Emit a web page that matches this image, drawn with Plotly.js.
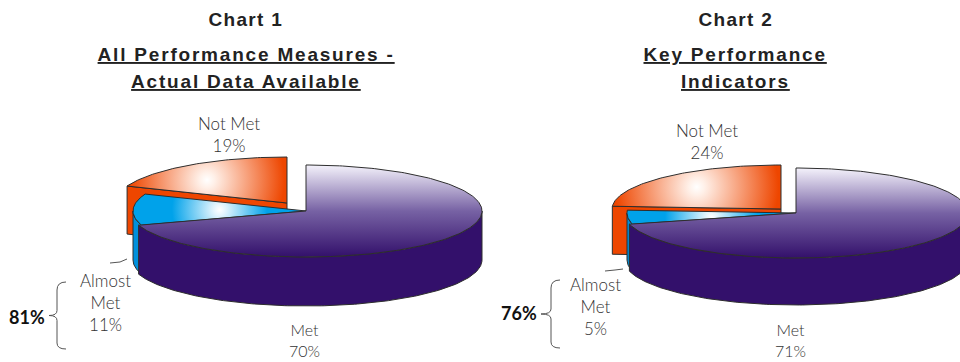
<!DOCTYPE html>
<html>
<head>
<meta charset="utf-8">
<script src="https://cdn.plot.ly/plotly-3.0.1.min.js"></script>
<style>
html, body { margin: 0; padding: 0; background: #fff; }
#chart { width: 960px; height: 362px; }
/* Wide tracking and a heavy rule on the headings */
.annotation[data-index="0"] text, .annotation[data-index="7"] text { letter-spacing: 1.3px; }
.annotation[data-index="1"] text, .annotation[data-index="2"] text,
.annotation[data-index="8"] text, .annotation[data-index="9"] text {
  letter-spacing: 1.8px;
  text-decoration-thickness: 2px;
}
</style>
</head>
<body>
<div id="chart"></div>
<script>
// Share of performance measures per status, in percent
const categories = ["Met", "Almost Met", "Not Met"];
const chart1Values = [70, 11, 19];
const chart2Values = [71, 5, 24];
const chart1Total = "81%";
const chart2Total = "76%";

const chart1Discs = [
  { cx: 306, cy: 211, rx: 176, ry: 46, depth: 49 },
  { cx: 306, cy: 211, rx: 173, ry: 46, depth: 49 },
  { cx: 287, cy: 203, rx: 172, ry: 46, depth: 48 }
];
const chart2Discs = [
  { cx: 796, cy: 213, rx: 172, ry: 45, depth: 47 },
  { cx: 796, cy: 213, rx: 169, ry: 45, depth: 47 },
  { cx: 781, cy: 209, rx: 169, ry: 44, depth: 48 }
];

const OUTLINE = "#2e2e2e";
const RED = "#ee4600";
const BLUE = "#00a2ea";
const BLUE_SIDE = "#0090dc";
const PURPLE = "#33106b";

// Share of each slice's half width that its highlight reaches
const NOT_MET_GLOW = 0.97;
const ALMOST_MET_GLOW = 0.55;

// Point on a disc rim; angle in degrees clockwise from 12 o'clock
function rim(d, deg, drop) {
  const t = deg * Math.PI / 180;
  return [d.cx + d.rx * Math.sin(t), d.cy - d.ry * Math.cos(t) + (drop || 0)];
}

function arc(d, from, to, drop) {
  const pts = [];
  const n = Math.max(2, Math.ceil(Math.abs(to - from)));
  for (let i = 0; i <= n; i++) pts.push(rim(d, from + (to - from) * i / n, drop));
  return pts;
}

function polyTrace(name, pts, fill) {
  const closed = pts.concat([pts[0]]);
  const trace = {
    name: name,
    type: "scatter",
    mode: "lines",
    x: closed.map(p => p[0]),
    y: closed.map(p => p[1]),
    fill: "toself",
    line: { color: OUTLINE, width: 1 },
    hoverinfo: "skip",
    showlegend: false
  };
  if (typeof fill === "string") trace.fillcolor = fill;
  else trace.fillgradient = fill;
  return trace;
}

// One exploded, extruded pie drawn back to front: Not Met, Almost Met, Met
function pieTraces(values, discs) {
  const a0 = values[0] * 3.6;
  const a1 = a0 + values[1] * 3.6;
  const [met, almost, notMet] = discs;
  const notMetApex = [notMet.cx, notMet.cy];
  const traces = [];

  traces.push(polyTrace("Not Met cut face", [
    rim(notMet, a1), notMetApex,
    [notMet.cx, notMet.cy + notMet.depth], rim(notMet, a1, notMet.depth)
  ], RED));
  const notMetTop = polyTrace("Not Met", [notMetApex].concat(arc(notMet, a1, 360)), {
    type: "radial",
    colorscale: [[0, "#ffffff"], [0.1, "#fff0e8"], [1, RED]]
  });
  notMetTop.meta = { glow: NOT_MET_GLOW };
  traces.push(notMetTop);

  traces.push(polyTrace("Almost Met side",
    arc(almost, a0, 270).concat(arc(almost, 270, a0, almost.depth)), BLUE_SIDE));
  const almostTop = polyTrace("Almost Met", [[almost.cx, almost.cy]].concat(arc(almost, a0, a1)), {
    type: "radial",
    colorscale: [[0, "#ffffff"], [0.12, "#e4f5fd"], [1, BLUE]]
  });
  almostTop.meta = { glow: ALMOST_MET_GLOW };
  traces.push(almostTop);

  traces.push(polyTrace("Met side",
    arc(met, 90, a0).concat(arc(met, a0, 90, met.depth)), PURPLE));
  traces.push(polyTrace("Met", [[met.cx, met.cy]].concat(arc(met, 0, a0)), {
    type: "vertical",
    start: met.cy - met.ry,
    stop: met.cy + met.ry,
    colorscale: [[0, "#f4f2fb"], [0.5, "#7762a4"], [1, PURPLE]]
  }));
  return traces;
}

const LABEL_FONT = { family: "Lato, 'Noto Sans', sans-serif", size: 17, color: "#333333", weight: 300 };
const MET_FONT = Object.assign({}, LABEL_FONT, { size: 16 });
const TOTAL_FONT = { family: "Lato, 'Noto Sans', sans-serif", size: 18, color: "#111111", weight: 700 };
const HEAD_FONT = { family: "'Liberation Sans', Arial, sans-serif", size: 19, color: "#222222", weight: 700 };
const TITLE_FONT = Object.assign({}, HEAD_FONT, { lineposition: "under" });

function note(x, y, text, font) {
  return { x, y, xref: "x", yref: "y", text, font, showarrow: false, align: "center", xanchor: "center", yanchor: "middle" };
}

function pct(v) { return v + "%"; }

const annotations = [
  note(246, 19, "Chart 1", HEAD_FONT),
  note(246, 54, "All Performance Measures -", TITLE_FONT),
  note(246, 81, "Actual Data Available", TITLE_FONT),
  note(229, 134, categories[2] + "<br>" + pct(chart1Values[2]), LABEL_FONT),
  note(105, 302, "Almost<br>Met<br>" + pct(chart1Values[1]), LABEL_FONT),
  note(304, 340, categories[0] + "<br>" + pct(chart1Values[0]), MET_FONT),
  note(27, 317, chart1Total, TOTAL_FONT),
  note(735, 19, "Chart 2", HEAD_FONT),
  note(735, 54, "Key Performance", TITLE_FONT),
  note(735, 81, "Indicators", TITLE_FONT),
  note(707, 141, categories[2] + "<br>" + pct(chart2Values[2]), LABEL_FONT),
  note(595, 306, "Almost<br>Met<br>" + pct(chart2Values[1]), LABEL_FONT),
  note(790, 340, categories[0] + "<br>" + pct(chart2Values[0]), MET_FONT),
  note(519, 313, chart2Total, TOTAL_FONT)
];

// Brace path spanning the two shares it sums, with its tip pointing at the total
function brace(x, top, bottom, tip) {
  const mid = (top + bottom) / 2;
  return "M " + (x + 9) + " " + top + " Q " + x + " " + top + " " + x + " " + (top + 8) +
    " L " + x + " " + (mid - 5) + " Q " + x + " " + mid + " " + tip + " " + mid +
    " Q " + x + " " + mid + " " + x + " " + (mid + 5) +
    " L " + x + " " + (bottom - 6) + " Q " + x + " " + bottom + " " + (x + 9) + " " + bottom;
}

const lineStyle = { color: "#555555", width: 1 };
const shapes = [
  { type: "path", xref: "x", yref: "y", path: brace(57, 282, 349, 49), line: lineStyle },
  { type: "path", xref: "x", yref: "y", path: brace(551, 280, 348, 541), line: lineStyle },
  { type: "path", xref: "x", yref: "y", path: "M 110 263 L 120 262 L 127 259", line: lineStyle },
  { type: "path", xref: "x", yref: "y", path: "M 605 271 L 615 270 L 623 269", line: lineStyle }
];

const layout = {
  width: 960,
  height: 362,
  margin: { l: 0, r: 0, t: 0, b: 0 },
  paper_bgcolor: "#ffffff",
  plot_bgcolor: "#ffffff",
  xaxis: { range: [0, 960], visible: false, fixedrange: true },
  yaxis: { range: [362, 0], visible: false, fixedrange: true },
  annotations: annotations,
  shapes: shapes,
  showlegend: false
};

// The highlights are round spots, so pin each radial gradient to a circle
// about the centre of its slice instead of stretching it over the bounding box
function roundHighlights(gd) {
  const xa = gd._fullLayout.xaxis;
  const ya = gd._fullLayout.yaxis;
  const groups = gd.querySelectorAll(".scatterlayer .trace");
  gd.data.forEach((trace, i) => {
    if (!trace.meta || !groups[i]) return;
    const fillPath = groups[i].querySelector(".js-fill");
    const match = fillPath && /url\(["']?#([^"')]+)/.exec(fillPath.style.fill);
    const gradient = match && document.getElementById(match[1]);
    if (!gradient) return;
    const x0 = Math.min(...trace.x), x1 = Math.max(...trace.x);
    const y0 = Math.min(...trace.y), y1 = Math.max(...trace.y);
    gradient.setAttribute("gradientUnits", "userSpaceOnUse");
    gradient.setAttribute("cx", xa.d2p((x0 + x1) / 2));
    gradient.setAttribute("cy", ya.d2p((y0 + y1) / 2));
    gradient.setAttribute("r", (xa.d2p(x1) - xa.d2p(x0)) / 2 * trace.meta.glow);
  });
}

const traces = pieTraces(chart1Values, chart1Discs).concat(pieTraces(chart2Values, chart2Discs));
Plotly.newPlot("chart", traces, layout, { displayModeBar: false, staticPlot: true })
  .then(roundHighlights);
</script>
</body>
</html>
